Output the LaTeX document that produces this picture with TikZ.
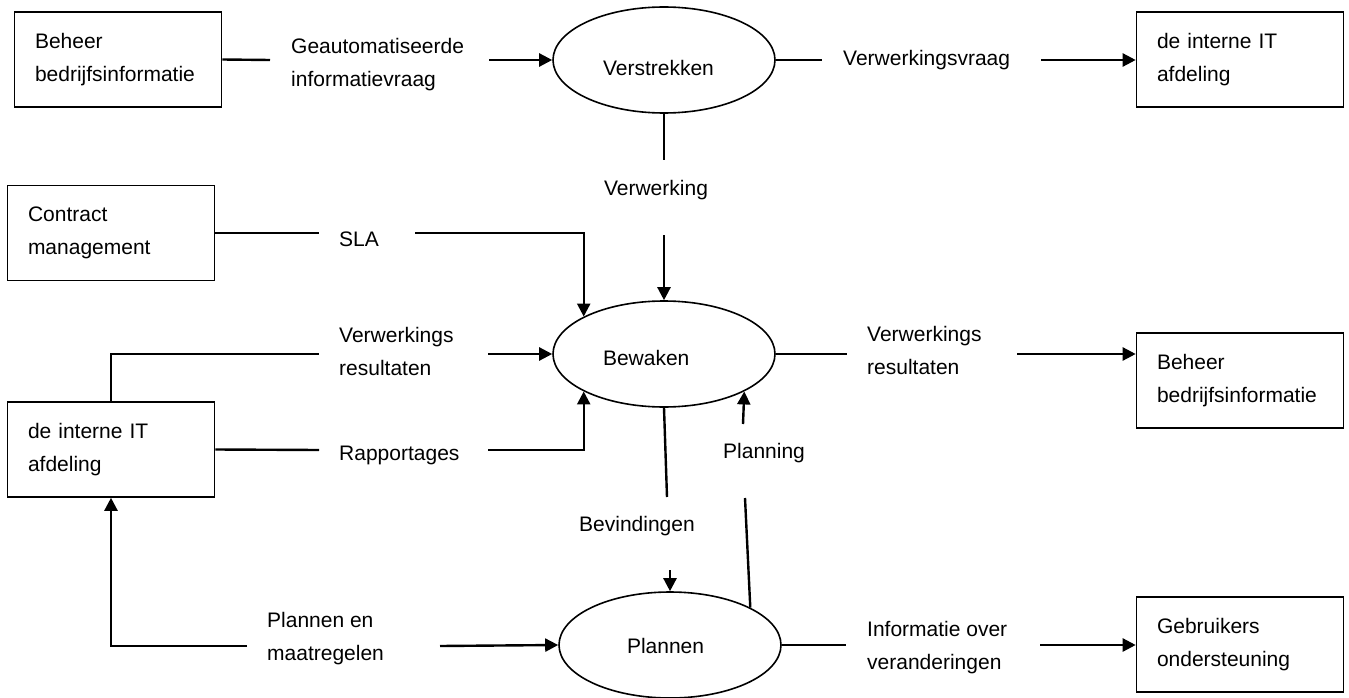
\documentclass[tikz,border=0pt]{standalone}
\usepackage{fontspec}
\setmainfont{Liberation Sans}
\usetikzlibrary{arrows.meta,shapes.geometric}
\begin{document}
\begin{tikzpicture}[x=1pt,y=-1pt,
  every node/.style={font=\fontsize{21}{33}\selectfont},
  entity/.style={draw, line width=1.6pt, rectangle, align=left, text width=166pt,
    inner xsep=20.5pt, inner ysep=0pt, minimum height=95pt},
  % #1: width of the left-aligned text column, #2: height that lowers the text
  process/.style 2 args={draw, line width=1.6pt, ellipse, minimum width=222pt,
    minimum height=106pt, inner sep=0pt, align=left, text width=#1,
    text height=#2, text depth=0pt},
  lbl/.style={align=left, inner sep=0pt, anchor=west},
  flow/.style={line width=2.4pt},
  flowto/.style={line width=2.4pt, -{Triangle[length=13pt,width=13pt]}}]
\useasboundingbox (0,0) rectangle (1349,698);

% external entities
\node[entity] (infoA) at (118,59.5) {Beheer\\bedrijfsinformatie};
\node[entity] (itA)   at (1240,59.5) {de interne IT\\afdeling};
\node[entity] (cm)    at (111,233) {Contract\\management};
\node[entity] (itB)   at (111,449.5) {de interne IT\\afdeling};
\node[entity] (infoB) at (1240,380.5) {Beheer\\bedrijfsinformatie};
\node[entity] (gs)    at (1240,644.5) {Gebruikers\\ondersteuning};

% processes
\node[process={122pt}{31pt}] (verstr) at (664,60) {Verstrekken};
\node[process={122pt}{22pt}] (bew)    at (664,354) {Bewaken};
\node[process={86pt}{17pt}]  (plan)   at (670,645) {Plannen};

% flow labels
\node[lbl] (tGeo)  at (291,65)  {Geautomatiseerde\\informatievraag};
\node[lbl] (tVv)   at (843,60)  {Verwerkingsvraag};
\node       (tVerw) at (656,190) {Verwerking};
\node[lbl] (tSla)  at (339,239) {SLA};
\node[lbl] (tRes1) at (339,351) {Verwerkings\\resultaten};
\node[lbl] (tRes2) at (867,350) {Verwerkings\\resultaten};
\node[lbl] (tRap)  at (339,455) {Rapportages};
\node[lbl] (tPlng) at (723,453) {Planning};
\node       (tBev)  at (637,526) {Bevindingen};
\node[lbl] (tPm)   at (267,639) {Plannen en\\maatregelen};
\node[lbl] (tInf)  at (867,648) {Informatie over\\veranderingen};

% loose ends of the flows, on either side of their labels
\coordinate (a1) at (270,60);   \coordinate (a2) at (489,60);
\coordinate (b1) at (822,60);   \coordinate (b2) at (1041,60);
\coordinate (c1) at (664,160);  \coordinate (c2) at (664,235);
\coordinate (d1) at (319,233);  \coordinate (d2) at (415,233);
\coordinate (e1) at (319,354);  \coordinate (e2) at (488,354);
\coordinate (f1) at (319,450);  \coordinate (f2) at (488,450);
\coordinate (g1) at (847,354);  \coordinate (g2) at (1017,354);
\coordinate (h1) at (667,497);  \coordinate (h2) at (670,570);
\coordinate (i1) at (745,498);  \coordinate (i2) at (743,424);
\coordinate (j1) at (247,646);  \coordinate (j2) at (440,646);
\coordinate (k1) at (846,645);  \coordinate (k2) at (1040,645);

% Geautomatiseerde informatievraag
\draw[flow] (infoA.east) -- (a1);
\draw[flowto] (a2) -- (verstr.west);
% Verwerkingsvraag
\draw[flow] (verstr.east) -- (b1);
\draw[flowto] (b2) -- (b2 -| itA.west);
% Verwerking
\draw[flow] (verstr.south) -- (c1);
\draw[flowto] (c2) -- (bew.north);
% SLA
\draw[flow] (cm.east) -- (d1);
\draw[flowto] (d2) -| (bew.155);
% Verwerkings resultaten (in)
\draw[flow] (itB.north) |- (e1);
\draw[flowto] (e2) -- (bew.west);
% Rapportages
\draw[flow] (itB.east) -- (f1);
\draw[flowto] (f2) -| (bew.205);
% Verwerkings resultaten (out)
\draw[flow] (bew.east) -- (g1);
\draw[flowto] (g2) -- (g2 -| infoB.west);
% Bevindingen
\draw[flow] (bew.south) -- (h1);
\draw[flowto] (h2) -- (plan.north);
% Planning
\draw[flow] (plan.25) -- (i1);
\draw[flowto] (i2) -- (bew.-25);
% Plannen en maatregelen
\draw[flowto] (j1) -| (itB.south);
\draw[flowto] (j2) -- (plan.west);
% Informatie over veranderingen
\draw[flow] (plan.east) -- (k1);
\draw[flowto] (k2) -- (k2 -| gs.west);
\end{tikzpicture}
\end{document}
